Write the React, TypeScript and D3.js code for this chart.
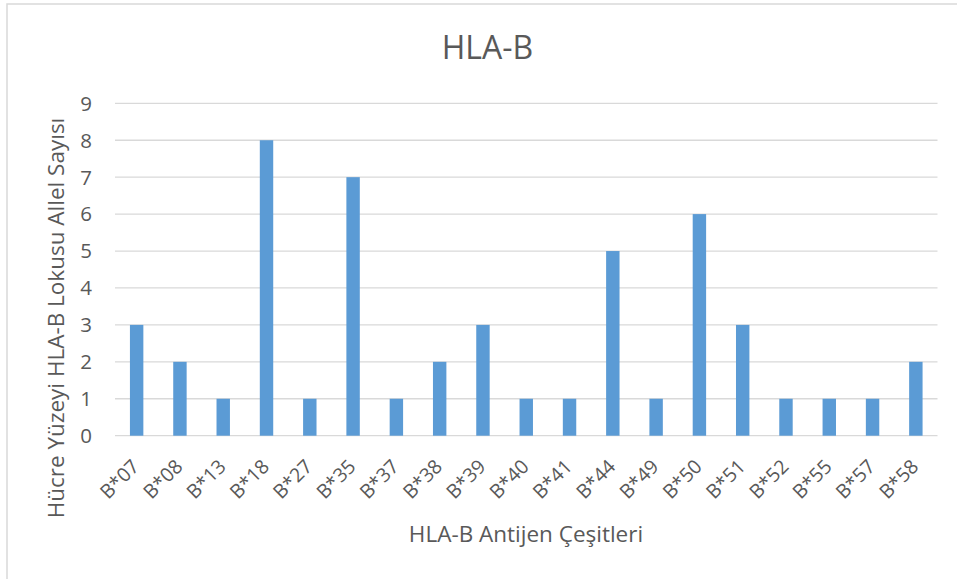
import React from "react";
import * as d3 from "d3";

const categories = ["B*07","B*08","B*13","B*18","B*27","B*35","B*37","B*38","B*39","B*40","B*41","B*44","B*49","B*50","B*51","B*52","B*55","B*57","B*58"];
const values = [3,2,1,8,1,7,1,2,3,1,1,5,1,6,3,1,1,1,2];
const yTicks = [0,1,2,3,4,5,6,7,8,9];

const W = 957, H = 579;
const FONT = "'Open Sans', 'Segoe UI', sans-serif";
const TXT = "#595959";

export default function App() {
  const x = d3.scaleBand<string>().domain(categories).range([115, 937.5]).paddingInner(0.69).paddingOuter(0.345);
  const y = d3.scaleLinear().domain([0, 9]).range([435.7, 103.3]);
  return (
    <svg width={W} height={H} style={{ position: "absolute", left: 0, top: 0, background: "#fff" }} fontFamily={FONT}>
      <rect x={7} y={4} width={W} height={H} fill="#fff" stroke="#d9d9d9" strokeWidth={1.5} />
      <text x={487.5} y={59} textAnchor="middle" fontSize={32} fill={TXT}>HLA-B</text>
      {yTicks.map(t => (
        <g key={t}>
          <line x1={115} x2={937.5} y1={y(t)} y2={y(t)} stroke="#d9d9d9" strokeWidth={1.3} />
          <text x={92} y={y(t)} dy="0.36em" textAnchor="end" fontSize={20.5} fill={TXT}>{t}</text>
        </g>
      ))}
      {categories.map((c, i) => (
        <rect key={c} x={x(c)} y={y(values[i])} width={x.bandwidth()} height={y(0) - y(values[i])} fill="#5b9bd5" />
      ))}
      {categories.map(c => {
        const cx = (x(c) as number) + x.bandwidth() / 2 - 1;
        const cy = 463;
        return (
          <text key={c} transform={`translate(${cx},${cy}) rotate(-45)`} textAnchor="end" dy="0.35em" fontSize={19.5} fill={TXT}>{c}</text>
        );
      })}
      <text transform={`translate(64,318) rotate(-90)`} textAnchor="middle" fontSize={22.5} fill={TXT}>Hücre Yüzeyi HLA-B Lokusu Allel Sayısı</text>
      <text x={526} y={542} textAnchor="middle" fontSize={22.5} fill={TXT}>HLA-B Antijen Çeşitleri</text>
    </svg>
  );
}
